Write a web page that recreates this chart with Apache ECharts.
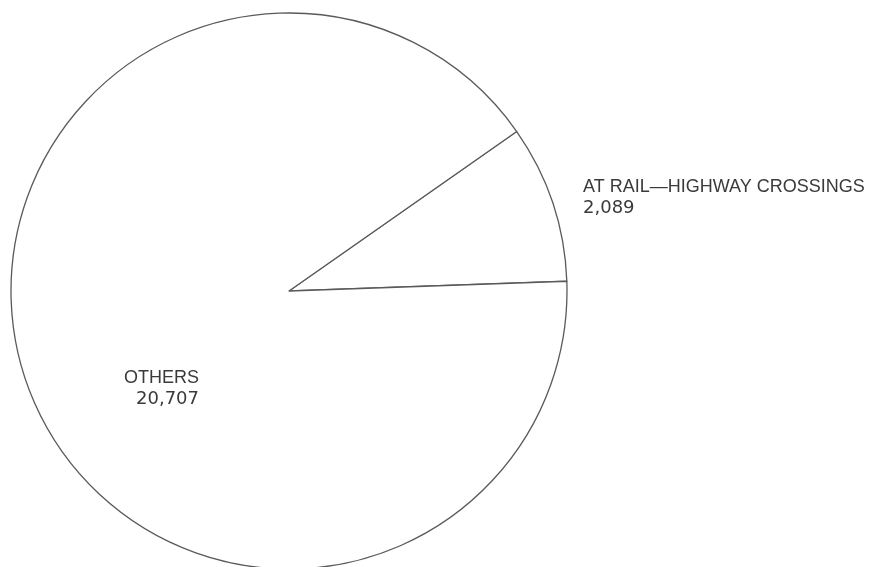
<!DOCTYPE html>
<html>
<head>
<meta charset="utf-8">
<script src="https://cdn.jsdelivr.net/npm/echarts@6/dist/echarts.min.js"></script>
<style>
  html, body { margin: 0; padding: 0; background: #fff; }
  #main { width: 883px; height: 567px; }
</style>
</head>
<body>
<div id="main"></div>
<script>
var categories = ['AT RAIL\u2014HIGHWAY CROSSINGS', 'OTHERS'];
var values = [2089, 20707];

var chart = echarts.init(document.getElementById('main'));

var pieData = [];
for (var i = 0; i < categories.length; i++) {
    pieData.push({ name: categories[i], value: values[i] });
}

// label anchor spots
var labelSpots = [
    { x: 583, y: 177, align: 'left' },
    { x: 199, y: 368, align: 'right' }
];

var option = {
    backgroundColor: '#fff',
    animation: false,
    series: [
        {
            type: 'pie',
            center: [289, 291],
            radius: 278,
            startAngle: 35,
            clockwise: true,
            avoidLabelOverlap: false,
            data: pieData,
            itemStyle: {
                color: '#fff',
                borderColor: '#5a5a5a',
                borderWidth: 1.3
            },
            emphasis: { disabled: true },
            label: {
                show: true,
                color: '#3a3a3a',
                fontFamily: 'Liberation Sans',
                fontSize: 18,
                lineHeight: 21,
                formatter: function (p) {
                    return '{n|' + p.name + '}\n{v|' + p.value.toLocaleString('en-US') + '}';
                },
                rich: {
                    n: { fontFamily: 'Liberation Sans', fontSize: 18, lineHeight: 21, color: '#3a3a3a' },
                    v: { fontFamily: 'DejaVu Sans', fontSize: 18, lineHeight: 21, color: '#3a3a3a' }
                }
            },
            labelLine: { show: false },
            labelLayout: function (params) {
                var s = labelSpots[params.dataIndex];
                return { x: s.x, y: s.y, align: s.align, verticalAlign: 'top' };
            }
        }
    ]
};

chart.setOption(option);
</script>
</body>
</html>
